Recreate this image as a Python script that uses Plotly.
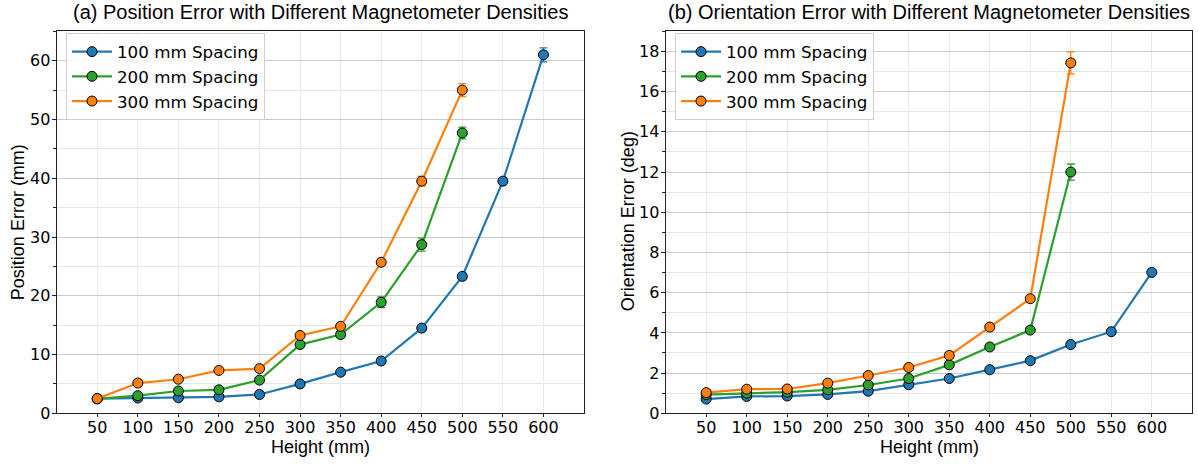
import plotly.graph_objects as go

heights = [50, 100, 150, 200, 250, 300, 350, 400, 450, 500, 550, 600]
tick_labels = ["50", "100", "150", "200", "250", "300", "350", "400", "450", "500", "550", "600"]
series_names = ["100 mm Spacing", "200 mm Spacing", "300 mm Spacing"]
colors = ["#1f77b4", "#2ca02c", "#ff7f0e"]

# Position error (mm)
pos_100 = [2.5, 2.6, 2.65, 2.8, 3.2, 5.0, 7.0, 8.9, 14.5, 23.3, 39.5, 61.0]
pos_100_err = [0.3, 0.3, 0.3, 0.3, 0.3, 0.3, 0.3, 0.4, 0.5, 0.6, 0.6, 1.2]
pos_200 = [2.45, 3.0, 3.8, 4.0, 5.65, 11.7, 13.4, 18.9, 28.7, 47.7]
pos_200_err = [0.3, 0.3, 0.3, 0.3, 0.4, 0.5, 0.5, 0.9, 1.1, 1.0]
pos_300 = [2.5, 5.15, 5.8, 7.3, 7.6, 13.25, 14.8, 25.7, 39.5, 55.0]
pos_300_err = [0.3, 0.3, 0.3, 0.3, 0.3, 0.4, 0.4, 0.5, 0.8, 1.1]

# Orientation error (deg)
ori_100 = [0.71, 0.84, 0.86, 0.94, 1.10, 1.42, 1.73, 2.17, 2.62, 3.42, 4.06, 7.01]
ori_100_err = [0.05, 0.05, 0.05, 0.05, 0.05, 0.07, 0.07, 0.08, 0.1, 0.1, 0.1, 0.1]
ori_200 = [0.93, 1.0, 1.05, 1.17, 1.41, 1.73, 2.41, 3.30, 4.14, 12.0]
ori_200_err = [0.05, 0.05, 0.05, 0.05, 0.06, 0.07, 0.08, 0.1, 0.1, 0.4]
ori_300 = [1.03, 1.2, 1.21, 1.5, 1.88, 2.28, 2.88, 4.29, 5.70, 17.43]
ori_300_err = [0.05, 0.05, 0.05, 0.06, 0.07, 0.08, 0.1, 0.12, 0.15, 0.55]

W, H = 1198, 470


def py(px):
    return 1 - px / H


left_dom = [56.7 / W, 584.0 / W]
right_dom = [665.7 / W, 1192.3 / W]
y_dom = [py(422.3), py(32.0)]

fig = go.Figure()

pos_sets = [(pos_100, pos_100_err), (pos_200, pos_200_err), (pos_300, pos_300_err)]
ori_sets = [(ori_100, ori_100_err), (ori_200, ori_200_err), (ori_300, ori_300_err)]

for i, (vals, errs) in enumerate(pos_sets):
    fig.add_trace(go.Scatter(
        x=heights[:len(vals)], y=vals, name=series_names[i], mode="lines+markers",
        line=dict(color=colors[i], width=2.2),
        marker=dict(color=colors[i], size=10, line=dict(color="black", width=1)),
        error_y=dict(type="data", array=errs, visible=True, color=colors[i], thickness=1.3, width=4),
        xaxis="x", yaxis="y", legend="legend"))

for i, (vals, errs) in enumerate(ori_sets):
    fig.add_trace(go.Scatter(
        x=heights[:len(vals)], y=vals, name=series_names[i], mode="lines+markers",
        line=dict(color=colors[i], width=2.2),
        marker=dict(color=colors[i], size=10, line=dict(color="black", width=1)),
        error_y=dict(type="data", array=errs, visible=True, color=colors[i], thickness=1.3, width=4),
        xaxis="x2", yaxis="y2", legend="legend2"))

tick_font = dict(family="DejaVu Sans", size=16, color="black")
label_font = dict(family="Liberation Sans", size=18, color="black")
title_font = dict(family="Liberation Sans", size=20, color="black")


def xaxis(domain, anchor):
    return dict(domain=domain, anchor=anchor, range=[0, 650], tickvals=heights, ticktext=tick_labels,
                showgrid=True, gridcolor="#ebebeb", gridwidth=1, zeroline=False,
                showline=True, linecolor="#222", linewidth=1.3, mirror=True,
                ticks="outside", ticklen=3, tickcolor="#222", tickfont=tick_font,
                ticklabelstandoff=-4)


def yaxis(domain, anchor, rng, dtick):
    return dict(domain=domain, anchor=anchor, range=rng, dtick=dtick, tick0=0,
                showgrid=True, gridcolor="#cbcbcb", gridwidth=1.3, zeroline=False,
                showline=True, linecolor="#222", linewidth=1.3, mirror=True,
                ticks="outside", ticklen=4, tickcolor="#222", tickfont=tick_font,
                ticklabelstandoff=-2,
                minor=dict(dtick=dtick / 2, tick0=0, ticks="outside", ticklen=2.5, tickcolor="#222",
                           showgrid=True, gridcolor="#e6e6e6", gridwidth=1))


legend_common = dict(bgcolor="rgba(255,255,255,0.85)", bordercolor="#d0d0d0", borderwidth=1,
                     font=dict(family="DejaVu Sans", size=16.7, color="black"),
                     xanchor="left", yanchor="top", tracegroupgap=0, itemwidth=40)

fig.update_layout(
    width=W, height=H, autosize=False, margin=dict(l=0, r=0, t=0, b=0),
    paper_bgcolor="white", plot_bgcolor="white",
    xaxis=xaxis(left_dom, "y"),
    yaxis=yaxis(y_dom, "x", [0, 65], 10),
    xaxis2=xaxis(right_dom, "y2"),
    yaxis2=yaxis(y_dom, "x2", [0, 19], 2),
    legend=dict(x=66 / W, y=py(34), **legend_common),
    legend2=dict(x=675 / W, y=py(34), **legend_common),
    showlegend=True,
)

annotations = [
    dict(text="(a) Position Error with Different Magnetometer Densities", x=320.4 / W, y=py(12.5),
         xref="paper", yref="paper", showarrow=False, font=title_font, xanchor="center", yanchor="middle"),
    dict(text="(b) Orientation Error with Different Magnetometer Densities", x=929 / W, y=py(12.5),
         xref="paper", yref="paper", showarrow=False, font=title_font, xanchor="center", yanchor="middle"),
    dict(text="Height (mm)", x=320.4 / W, y=py(457), xref="paper", yref="paper", showarrow=False,
         font=label_font, xanchor="center", yanchor="middle"),
    dict(text="Height (mm)", x=929 / W, y=py(457), xref="paper", yref="paper", showarrow=False,
         font=label_font, xanchor="center", yanchor="middle"),
    dict(text="Position Error (mm)", x=17.5 / W, y=py(227.5), xref="paper", yref="paper", showarrow=False,
         font=label_font, textangle=-90, xanchor="center", yanchor="middle"),
    dict(text="Orientation Error (deg)", x=627.5 / W, y=py(226.5), xref="paper", yref="paper", showarrow=False,
         font=label_font, textangle=-90, xanchor="center", yanchor="middle"),
]
fig.update_layout(annotations=annotations)

fig.write_html("out.html", config={"displayModeBar": False},
               post_script="document.body.style.margin='0';document.body.style.overflow='hidden';")
